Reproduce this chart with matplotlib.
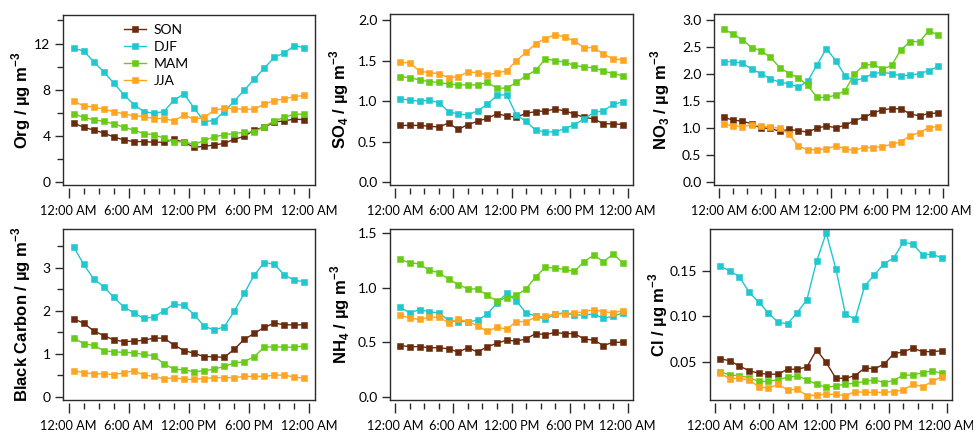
import matplotlib
matplotlib.use("Agg")
import matplotlib.pyplot as plt
from matplotlib.ticker import FixedLocator, NullFormatter

plt.rcParams['mathtext.fontset'] = 'custom'
plt.rcParams['mathtext.rm'] = 'Liberation Sans'
plt.rcParams['mathtext.bf'] = 'Liberation Sans:bold'

hours = [h + 0.5 for h in range(24)]
seasons = ["SON", "DJF", "MAM", "JJA"]
colors = {"SON": "#6a2a0c", "DJF": "#1fc7cf", "MAM": "#68cc16", "JJA": "#ffa520"}

org = {
    "SON": [5.1, 4.75, 4.5, 4.25, 3.9, 3.65, 3.5, 3.5, 3.45, 3.45, 3.7, 3.45, 3.0, 3.1, 3.2, 3.35, 3.7, 3.95, 4.5, 4.75, 5.2, 5.3, 5.45, 5.4],
    "DJF": [11.57, 11.37, 10.42, 9.55, 8.58, 7.57, 6.71, 6.1, 5.96, 6.1, 7.1, 7.63, 6.42, 5.24, 5.32, 6.1, 7.0, 7.97, 8.9, 9.87, 10.8, 11.2, 11.8, 11.65],
    "MAM": [5.9, 5.6, 5.4, 5.25, 5.05, 4.75, 4.5, 4.2, 4.1, 3.8, 3.45, 3.5, 3.25, 3.6, 3.9, 4.1, 4.2, 4.3, 4.35, 4.8, 5.3, 5.6, 5.9, 5.85],
    "JJA": [7.0, 6.6, 6.5, 6.3, 6.1, 5.9, 5.75, 5.67, 5.5, 5.5, 5.3, 5.8, 5.45, 5.6, 6.2, 6.4, 6.35, 6.3, 6.3, 6.75, 7.05, 7.2, 7.4, 7.5],
}
so4 = {
    "SON": [0.70, 0.70, 0.70, 0.69, 0.68, 0.73, 0.65, 0.71, 0.75, 0.79, 0.84, 0.82, 0.80, 0.85, 0.87, 0.88, 0.90, 0.88, 0.84, 0.80, 0.78, 0.72, 0.72, 0.71],
    "DJF": [1.03, 1.01, 1.0, 1.01, 0.98, 0.87, 0.84, 0.83, 0.88, 0.96, 1.07, 1.08, 0.83, 0.75, 0.64, 0.62, 0.62, 0.66, 0.71, 0.78, 0.86, 0.88, 0.96, 0.99],
    "MAM": [1.30, 1.29, 1.26, 1.24, 1.23, 1.21, 1.20, 1.20, 1.20, 1.23, 1.16, 1.16, 1.23, 1.31, 1.38, 1.52, 1.50, 1.48, 1.44, 1.42, 1.41, 1.37, 1.34, 1.31],
    "JJA": [1.48, 1.47, 1.37, 1.35, 1.34, 1.29, 1.30, 1.36, 1.35, 1.32, 1.35, 1.37, 1.50, 1.60, 1.71, 1.77, 1.82, 1.79, 1.74, 1.66, 1.66, 1.58, 1.52, 1.51],
}
no3 = {
    "SON": [1.2, 1.15, 1.13, 1.08, 1.0, 1.0, 0.94, 0.98, 0.95, 0.93, 1.0, 1.04, 1.01, 1.05, 1.14, 1.2, 1.28, 1.34, 1.36, 1.36, 1.26, 1.23, 1.27, 1.28],
    "DJF": [2.23, 2.23, 2.2, 2.09, 2.01, 1.91, 1.85, 1.82, 1.76, 1.87, 2.17, 2.47, 2.25, 1.97, 1.88, 1.92, 2.01, 2.03, 2.01, 1.97, 1.98, 2.01, 2.06, 2.14],
    "MAM": [2.83, 2.74, 2.63, 2.49, 2.43, 2.31, 2.12, 2.01, 1.93, 1.79, 1.57, 1.57, 1.61, 1.69, 2.0, 2.16, 2.18, 2.09, 2.16, 2.45, 2.6, 2.6, 2.8, 2.72],
    "JJA": [1.08, 1.04, 1.03, 1.06, 1.04, 1.02, 1.0, 0.89, 0.67, 0.6, 0.6, 0.62, 0.67, 0.62, 0.59, 0.64, 0.64, 0.66, 0.7, 0.75, 0.86, 0.92, 1.01, 1.03],
}
bc = {
    "SON": [1.81, 1.71, 1.53, 1.42, 1.32, 1.28, 1.29, 1.31, 1.36, 1.36, 1.2, 1.07, 1.01, 0.93, 0.93, 0.91, 1.1, 1.33, 1.47, 1.61, 1.71, 1.67, 1.67, 1.67],
    "DJF": [3.49, 3.08, 2.74, 2.56, 2.31, 2.09, 1.95, 1.82, 1.85, 2.0, 2.15, 2.12, 1.91, 1.64, 1.55, 1.62, 1.98, 2.4, 2.83, 3.12, 3.08, 2.83, 2.71, 2.67],
    "MAM": [1.37, 1.23, 1.19, 1.07, 1.04, 1.03, 1.02, 0.98, 0.95, 0.76, 0.64, 0.62, 0.58, 0.6, 0.64, 0.7, 0.78, 0.81, 0.93, 1.15, 1.16, 1.15, 1.15, 1.18],
    "JJA": [0.6, 0.56, 0.53, 0.53, 0.51, 0.55, 0.6, 0.5, 0.47, 0.41, 0.44, 0.4, 0.4, 0.42, 0.44, 0.44, 0.44, 0.47, 0.47, 0.47, 0.5, 0.5, 0.45, 0.43],
}
nh4 = {
    "SON": [0.47, 0.46, 0.46, 0.45, 0.45, 0.44, 0.41, 0.45, 0.41, 0.46, 0.49, 0.52, 0.51, 0.53, 0.58, 0.57, 0.59, 0.58, 0.58, 0.53, 0.52, 0.47, 0.5, 0.5],
    "DJF": [0.82, 0.77, 0.80, 0.78, 0.77, 0.70, 0.69, 0.69, 0.70, 0.76, 0.86, 0.95, 0.88, 0.77, 0.74, 0.71, 0.76, 0.77, 0.75, 0.75, 0.76, 0.72, 0.74, 0.77],
    "MAM": [1.26, 1.23, 1.22, 1.16, 1.14, 1.08, 1.03, 0.99, 0.99, 0.93, 0.88, 0.91, 0.93, 0.99, 1.1, 1.19, 1.18, 1.17, 1.15, 1.24, 1.3, 1.24, 1.31, 1.23],
    "JJA": [0.75, 0.72, 0.71, 0.73, 0.73, 0.68, 0.71, 0.69, 0.65, 0.6, 0.64, 0.62, 0.69, 0.69, 0.73, 0.74, 0.76, 0.76, 0.77, 0.78, 0.8, 0.78, 0.77, 0.79],
}
cl = {
    "SON": [0.053, 0.051, 0.045, 0.040, 0.037, 0.036, 0.036, 0.0415, 0.0415, 0.044, 0.063, 0.049, 0.0315, 0.0315, 0.0344, 0.043, 0.042, 0.047, 0.0585, 0.061, 0.0648, 0.061, 0.061, 0.062],
    "DJF": [0.1556, 0.1507, 0.144, 0.127, 0.116, 0.104, 0.0937, 0.0919, 0.1044, 0.1185, 0.161, 0.1926, 0.153, 0.1026, 0.097, 0.134, 0.146, 0.1585, 0.1648, 0.1826, 0.18, 0.1685, 0.169, 0.165],
    "MAM": [0.039, 0.035, 0.0344, 0.032, 0.028, 0.028, 0.030, 0.0326, 0.034, 0.030, 0.0248, 0.0215, 0.023, 0.025, 0.026, 0.028, 0.0296, 0.0267, 0.0289, 0.035, 0.035, 0.0378, 0.0396, 0.037],
    "JJA": [0.037, 0.031, 0.0315, 0.0296, 0.0222, 0.0204, 0.0248, 0.0185, 0.0193, 0.0122, 0.013, 0.0137, 0.0137, 0.0122, 0.0167, 0.0159, 0.0159, 0.0159, 0.0167, 0.0185, 0.0248, 0.0222, 0.028, 0.0333],
}

xtick_pos = [0, 6, 12, 18, 24]
xtick_labels = ["12:00 AM", "6:00 AM", "12:00 PM", "6:00 PM", "12:00 AM"]
xminor = [1.5 * i for i in range(17)]

W, H = 973, 433
fig = plt.figure(figsize=(W / 100, H / 100), dpi=100)

panels = [
    (org, r"Org / µg m$^{\mathbf{-3}}$", (63, 315, 15, 185), (-0.26, 14.47), [0, 4, 8, 12], [2, 6, 10, 14], "{:.0f}", -30),
    (so4, r"SO$_{\mathbf{4}}$ / µg m$^{\mathbf{-3}}$", (390, 633, 14, 185), (-0.035, 2.074), [0, 0.5, 1.0, 1.5, 2.0], [], "{:.1f}", -39),
    (no3, r"NO$_{\mathbf{3}}$ / µg m$^{\mathbf{-3}}$", (714, 948, 14, 185), (-0.05, 3.11), [0, 0.5, 1.0, 1.5, 2.0, 2.5, 3.0], [], "{:.1f}", -42),
    (bc, r"Black Carbon / µg m$^{\mathbf{-3}}$", (63, 315, 229, 400), (-0.08, 3.9), [0, 1, 2, 3], [0.5, 1.5, 2.5, 3.5], "{:.0f}", -30),
    (nh4, r"NH$_{\mathbf{4}}$ / µg m$^{\mathbf{-3}}$", (390, 633, 229, 400), (-0.03, 1.54), [0, 0.5, 1.0, 1.5], [], "{:.1f}", -38),
    (cl, r"Cl / µg m$^{\mathbf{-3}}$", (710, 952, 229, 400), (0.0074, 0.197), [0.05, 0.10, 0.15], [], "{:.2f}", -40),
]

ytickfont = dict(family="Lato", size=10)
xtickfont = dict(family="Lato", size=9.2)
edge = "#2a2a2a"

for idx, (data, ylab, box, ylim, major, minor, fmt, lab_off) in enumerate(panels):
    l, r, t, b = box
    ax = fig.add_axes([l / W, 1 - b / H, (r - l) / W, (b - t) / H])
    for s in seasons:
        ax.plot(hours, data[s], color=colors[s], lw=1.0, marker="s", ms=4.6,
                mec=colors[s], mew=0.4, label=s)
    ax.set_xlim(-0.55, 24.55)
    ax.set_ylim(*ylim)
    for sp in ax.spines.values():
        sp.set_color(edge)
        sp.set_linewidth(1.0)
    ax.yaxis.set_major_locator(FixedLocator(major))
    ax.yaxis.set_minor_locator(FixedLocator(minor))
    ax.set_yticklabels([fmt.format(v) for v in major], **ytickfont)
    ax.tick_params(axis="y", which="major", length=6, width=1.0, color=edge, pad=3)
    ax.tick_params(axis="y", which="minor", length=4, width=1.0, color=edge)
    ax.set_xticks([])
    sec = ax.secondary_xaxis(-3.0 / (b - t))
    sec.spines["bottom"].set_visible(False)
    sec.xaxis.set_major_locator(FixedLocator(xtick_pos))
    sec.xaxis.set_minor_locator(FixedLocator([m for m in xminor if m not in xtick_pos]))
    sec.xaxis.set_minor_formatter(NullFormatter())
    sec.set_xticklabels(xtick_labels, **xtickfont)
    sec.tick_params(axis="x", which="major", length=7, width=1.0, color=edge, pad=5)
    sec.tick_params(axis="x", which="minor", length=4.3, width=1.0, color=edge)
    ax.set_ylabel(ylab, fontsize=12, fontweight="bold", family="Liberation Sans")
    ax.yaxis.set_label_coords(lab_off / (r - l), 0.5)
    if idx == 0:
        ax.legend(loc="upper left", bbox_to_anchor=(0.21, 0.995), frameon=False,
                  prop=dict(family="Lato", size=10), handlelength=1.6,
                  handletextpad=0.5, labelspacing=0.35, borderaxespad=0.2)

fig.savefig("out.png", dpi=100)
